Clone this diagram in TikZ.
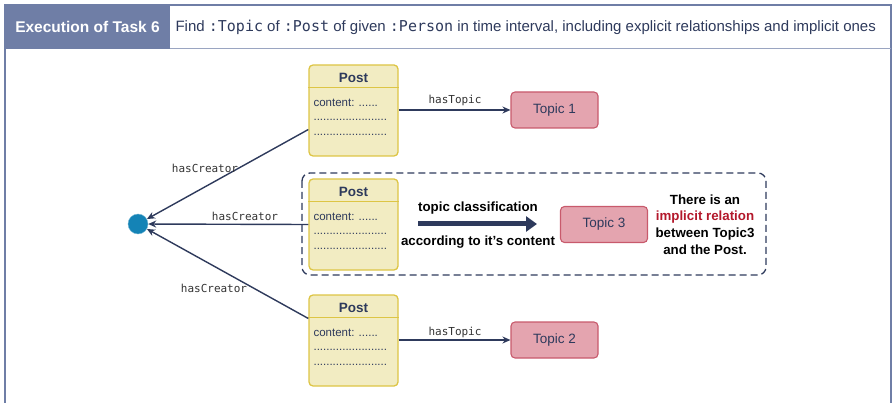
\documentclass[tikz,border=0pt]{standalone}
\usepackage{fontspec}
\setmainfont{Liberation Sans}
\setmonofont{DejaVu Sans Mono}
\usetikzlibrary{arrows.meta}

\definecolor{frameblue}{HTML}{6F7EA6}
\definecolor{navy}{HTML}{2E3A5C}
\definecolor{postfill}{HTML}{F2ECC2}
\definecolor{postdraw}{HTML}{DDC545}
\definecolor{topicfill}{HTML}{E4A4AF}
\definecolor{topicdraw}{HTML}{C85A6C}
\definecolor{personblue}{HTML}{1483B6}
\definecolor{implred}{HTML}{B3182B}

\tikzset{
    post/.style={draw=postdraw, fill=postfill, line width=1.3pt, rounded corners=4pt,
        minimum width=89pt, minimum height=91pt, inner sep=0pt},
    topic/.style={draw=topicdraw, fill=topicfill, line width=1.1pt, rounded corners=4pt,
        minimum width=87pt, minimum height=36pt, font=\fontsize{13.5}{15}\selectfont, text=navy},
    rel/.style={draw=navy, line width=1.4pt, -{Stealth[length=8pt,width=7pt]}},
    rellabel/.style={font=\ttfamily\fontsize{11}{13}\selectfont, text=black!80},
    bold/.style={font=\bfseries\fontsize{13.3}{15}\selectfont, text=black, align=center}
}

\newcommand{\postbody}[1]{%
    \node[font=\bfseries\fontsize{13.5}{15}\selectfont, text=navy] at ([yshift=-13.5pt]#1.north) {Post};
    \draw[draw=postdraw, line width=1.3pt] ([yshift=-23pt]#1.north west) -- ([yshift=-23pt]#1.north east);
    \node[anchor=north west, align=left, inner sep=0pt, font=\fontsize{11.5}{14.5}\selectfont, text=navy]
        at ([xshift=5pt,yshift=-34.5pt]#1.north west) {content: ......\\.......................\\.......................};
}

\begin{document}
\begin{tikzpicture}[x=1pt, y=-1pt]
    \useasboundingbox (0,0) rectangle (893,403);

    % Rahmen
    \draw[frameblue, line width=2.5pt] (5,403) -- (5,5) -- (891,5) -- (891,403);
    \fill[frameblue] (5,5) rectangle (170,49);
    \draw[frameblue!70, line width=1pt] (170,49) -- (891,49);
    \node[text=white, font=\bfseries\fontsize{15.5}{17}\selectfont] (task) at (87.5,27) {Execution of Task 6};
    \node[anchor=west, font=\fontsize{15}{17}\selectfont, text=navy] (query) at (172,27)
        {Find \texttt{:Topic} of \texttt{:Post} of given \texttt{:Person} in time interval, including explicit relationships and implicit ones};

    % Knoten
    \node[circle, fill=personblue, draw=personblue!60, minimum size=20pt, inner sep=0pt] (person) at (138,224) {};

    \node[post] (post1) at (353.5,110.5) {};
    \node[post] (post2) at (353.5,224.5) {};
    \node[post] (post3) at (353.5,340.5) {};
    \postbody{post1}
    \postbody{post2}
    \postbody{post3}

    \node[topic] (topic1) at (554.5,110) {Topic 1};
    \node[topic] (topic3) at (604,224.5) {Topic 3};
    \node[topic] (topic2) at (554.5,340) {Topic 2};

    \draw[navy, line width=1.3pt, dashed, dash pattern=on 7pt off 4pt, rounded corners=8pt]
        (302,173) rectangle (766,275);

    % Relationen
    \draw[rel] ([yshift=-19pt]post1.west) -- (person);
    \draw[rel] (post2.west) -- (person);
    \draw[rel] ([yshift=22pt]post3.west) -- (person);
    \node[rellabel] at (205,168) {hasCreator};
    \node[rellabel] at (245,216) {hasCreator};
    \node[rellabel] at (214,288) {hasCreator};

    \draw[rel] (post1.east|-topic1) -- (topic1);
    \draw[rel] (post3.east|-topic2) -- (topic2);
    \node[rellabel] at (455,100) {hasTopic};
    \node[rellabel] at (455,332) {hasTopic};

    % implizite Relation
    \coordinate (clsstart) at (418,224);
    \coordinate (clsend) at (537,224);
    \draw[navy, line width=5pt, -{Triangle[length=11pt,width=15pt]}] (clsstart) -- (clsend);
    \node[bold] at (478,208) {topic classification};
    \node[bold] at (478,242) {according to it's content};
    \node[bold, font=\bfseries\fontsize{13.3}{16.8}\selectfont] (note) at (705,224.5)
        {There is an\\\textcolor{implred}{implicit relation}\\between Topic3\\and the Post.};
\end{tikzpicture}
\end{document}
